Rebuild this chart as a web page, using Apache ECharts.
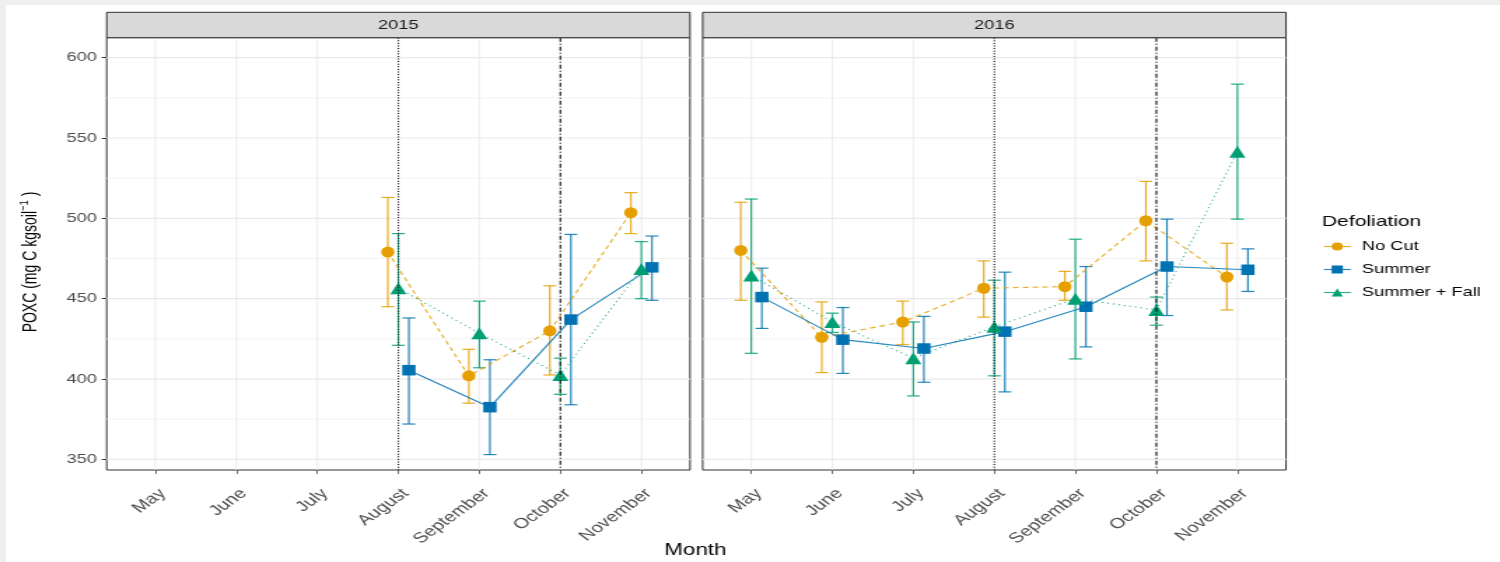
<!DOCTYPE html>
<html>
<head>
<meta charset="utf-8">
<script src="https://cdn.jsdelivr.net/npm/echarts/dist/echarts.min.js"></script>
<style>
html,body{margin:0;padding:0;background:#efefef;overflow:hidden;width:1500px;height:562px;}
#bg{position:absolute;left:6px;top:5px;width:1494px;height:557px;background:#fff;}
#chart{position:absolute;left:0;top:0;height:562px;transform-origin:0 0;}
</style>
</head>
<body>
<div id="bg"></div>
<div id="chart"></div>
<script>
// ---------- data ----------
const months = ['May', 'June', 'July', 'August', 'September', 'October', 'November'];
const panels = ['2015', '2016'];
const seriesNames = ['No Cut', 'Summer', 'Summer + Fall'];

// 2015
const noCut2015    = [null, null, null, 479, 402, 430, 503.5];
const noCut2015Lo  = [null, null, null, 445, 385, 402.5, 490.5];
const noCut2015Hi  = [null, null, null, 513, 418.5, 458, 516];
const summer2015   = [null, null, null, 405.5, 382.5, 437, 469.5];
const summer2015Lo = [null, null, null, 372, 353, 384, 449];
const summer2015Hi = [null, null, null, 438, 412, 490, 489];
const sf2015       = [null, null, null, 456.5, 428.5, 402.5, 468.5];
const sf2015Lo     = [null, null, null, 421, 407, 390.5, 450];
const sf2015Hi     = [null, null, null, 490.5, 448.5, 413, 485.5];

// 2016
const noCut2016    = [480, 426, 435.5, 456.5, 457.5, 498.5, 463.5];
const noCut2016Lo  = [449, 404, 421.5, 438.5, 449, 473.5, 443];
const noCut2016Hi  = [510, 448, 448.5, 473.5, 467, 523, 484.5];
const summer2016   = [451, 424.5, 419, 429.5, 445, 470, 468];
const summer2016Lo = [431.5, 403.5, 398, 392, 420, 439.5, 454.5];
const summer2016Hi = [469, 444.5, 439, 466.5, 470, 499.5, 481];
const sf2016       = [464.5, 435.5, 413, 432.5, 450, 443, 541.5];
const sf2016Lo     = [416, 429, 389.5, 402, 412.5, 433.5, 499.5];
const sf2016Hi     = [512, 441, 435.5, 461.5, 487, 451, 583.5];

const yTicks = [350, 400, 450, 500, 550, 600];
const yMinor = [375, 425, 475, 525, 575];
const refMonths = [3, 5]; // August (dotted), October (dot-dash)

// ---------- layout / style ----------
const S = 1.4;                 // horizontal stretch of the reference image
const W = 1500 / S;
const FF = '"Liberation Sans", Arial, Helvetica, sans-serif';
const el = document.getElementById('chart');
el.style.width = W + 'px';
el.style.transform = 'scaleX(' + S + ')';

const PW = 583.3 / S;
const gridsPx = [{left: 106.7 / S}, {left: 702.7 / S}];
const gTop = 37.7, gH = 432.3;
const yMin = 343.4, yMax = 612.4, xMin = -0.6, xMax = 6.6;

const groupStyle = [
  {color: '#E69F00', symbol: 'circle',   size: [9.5, 11],   dash: [4, 3], off: -0.13},
  {color: '#0072B2', symbol: 'rect',     size: [9.5, 10.5], dash: 'solid', off: 0.13},
  {color: '#009E73', symbol: 'triangle', size: [11.5, 12],  dash: [1, 3], off: 0}
];
const panelData = [
  [[noCut2015, noCut2015Lo, noCut2015Hi], [summer2015, summer2015Lo, summer2015Hi], [sf2015, sf2015Lo, sf2015Hi]],
  [[noCut2016, noCut2016Lo, noCut2016Hi], [summer2016, summer2016Lo, summer2016Hi], [sf2016, sf2016Lo, sf2016Hi]]
];

const grid = gridsPx.map(g => ({left: g.left, top: gTop, width: PW, height: gH,
  show: true, backgroundColor: '#fff', borderColor: '#333', borderWidth: 1}));

const xAxis = gridsPx.map((g, i) => ({
  type: 'value', gridIndex: i, min: xMin, max: xMax,
  axisLine: {show: false, onZero: false},
  splitLine: {show: false},
  axisTick: {show: true, customValues: months.map((m, k) => k), length: 4, lineStyle: {color: '#333', width: 1 / S}},
  axisLabel: {show: true, customValues: months.map((m, k) => k), rotate: 45, margin: 16,
    align: 'right', verticalAlign: 'top',
    formatter: v => months[Math.round(v)] || '', fontSize: 14.5, color: '#4d4d4d', fontFamily: FF}
}));
const yAxis = gridsPx.map((g, i) => ({
  type: 'value', gridIndex: i, min: yMin, max: yMax,
  axisLine: {show: false, onZero: false},
  splitLine: {show: false},
  axisTick: {show: i === 0, customValues: yTicks, length: 3.5, lineStyle: {color: '#333'}},
  axisLabel: {show: i === 0, customValues: yTicks, margin: 7, fontSize: 13, color: '#4d4d4d', fontFamily: FF}
}));

const series = [];
// grid lines (drawn through the axes' scales)
function hLine(color, width) {
  return function (params, api) {
    const cs = params.coordSys;
    const y = api.coord([xMin, api.value(1)])[1];
    return {type: 'line', shape: {x1: cs.x, y1: y, x2: cs.x + cs.width, y2: y},
      style: {stroke: color, lineWidth: width}};
  };
}
function vLine(color, width, dashFn) {
  return function (params, api) {
    const cs = params.coordSys;
    const x = api.coord([api.value(0), 400])[0];
    const st = {stroke: color, lineWidth: width};
    if (dashFn) st.lineDash = dashFn(params.dataIndex);
    return {type: 'line', shape: {x1: x, y1: cs.y, x2: x, y2: cs.y + cs.height}, style: st};
  };
}
gridsPx.forEach((g, p) => {
  series.push({type: 'custom', xAxisIndex: p, yAxisIndex: p, silent: true, z: 1,
    data: yTicks.map(v => [xMin, v]), renderItem: hLine('#e9e9e9', 1.2)});
  series.push({type: 'custom', xAxisIndex: p, yAxisIndex: p, silent: true, z: 1,
    data: yMinor.map(v => [xMin, v]), renderItem: hLine('#f0f0f0', 0.8)});
  series.push({type: 'custom', xAxisIndex: p, yAxisIndex: p, silent: true, z: 1,
    data: months.map((m, k) => [k, 400]), renderItem: vLine('#ebebeb', 0.9)});
});

function errRender(color) {
  return function (params, api) {
    const x = api.value(0), lo = api.value(1), hi = api.value(2);
    const a = api.coord([x, lo]), b = api.coord([x, hi]);
    const hw = 4.6;
    const st = {stroke: color, lineWidth: 1.2, opacity: 0.85};
    return {type: 'group', children: [
      {type: 'line', shape: {x1: a[0], y1: a[1], x2: b[0], y2: b[1]}, style: st},
      {type: 'line', shape: {x1: a[0] - hw, y1: a[1], x2: a[0] + hw, y2: a[1]}, style: st},
      {type: 'line', shape: {x1: b[0] - hw, y1: b[1], x2: b[0] + hw, y2: b[1]}, style: st}
    ]};
  };
}

// data series: lines first for legend, then error bars
panelData.forEach((pd, p) => {
  pd.forEach((arrs, gi) => {
    const gs = groupStyle[gi];
    const [vals] = arrs;
    const pts = [];
    vals.forEach((v, k) => { if (v != null) pts.push([k + gs.off, v]); });
    series.push({
      name: seriesNames[gi], type: 'line', xAxisIndex: p, yAxisIndex: p, z: 4,
      data: pts, symbol: gs.symbol, symbolSize: gs.size, showSymbol: true,
      itemStyle: {color: gs.color, opacity: 1},
      lineStyle: {color: gs.color, width: 1.1, type: gs.dash, opacity: 0.85},
      emphasis: {disabled: true}, animation: false
    });
  });
});
panelData.forEach((pd, p) => {
  pd.forEach((arrs, gi) => {
    const gs = groupStyle[gi];
    const [vals, lo, hi] = arrs;
    const d = [];
    vals.forEach((v, k) => { if (v != null) d.push([k + gs.off, lo[k], hi[k]]); });
    series.push({
      type: 'custom', xAxisIndex: p, yAxisIndex: p, z: 3, silent: true,
      data: d, renderItem: errRender(gs.color), animation: false
    });
  });
});
// reference vertical lines
gridsPx.forEach((g, p) => {
  series.push({
    type: 'custom', xAxisIndex: p, yAxisIndex: p, z: 6, silent: true,
    data: refMonths.map(k => [k, 400]),
    renderItem: vLine('#111', 1.1, i => (i === 0 ? [1, 1.6] : [4, 2, 1, 2]))
  });
});

const graphic = [];
gridsPx.forEach((g, p) => {
  graphic.push({type: 'rect', x: g.left, y: 12.3,
    shape: {x: 0, y: 0, width: PW, height: gTop - 12.3},
    style: {fill: '#d9d9d9', stroke: '#333', lineWidth: 1}, z: 10});
  graphic.push({type: 'text', x: g.left + PW / 2, y: (12.3 + gTop) / 2 + 0.5,
    style: {text: panels[p], fontSize: 13, fill: '#1a1a1a', fontFamily: FF, align: 'center', verticalAlign: 'middle'}, z: 11});
});
graphic.push({type: 'text', x: 695.3 / S, y: 550.5,
  style: {text: 'Month', fontSize: 16, fill: '#000', fontFamily: FF, align: 'center', verticalAlign: 'middle'}});
graphic.push({type: 'text', x: 1322 / S, y: 222,
  style: {text: 'Defoliation', fontSize: 15, fill: '#000', fontFamily: FF, align: 'left', verticalAlign: 'middle'}});
graphic.push({type: 'text', x: 31 / S, y: 262, rotation: Math.PI / 2,
  style: {text: '{a|POXC (mg C kgsoil}{s|−1}{a| )}', align: 'center', verticalAlign: 'middle',
    rich: {a: {fontSize: 14, fontFamily: FF, fill: '#000', lineHeight: 20},
           s: {fontSize: 9.5, fontFamily: FF, fill: '#000', verticalAlign: 'top', lineHeight: 20}}}});

const chart = echarts.init(el, null, {renderer: 'canvas', width: W, height: 562});
chart.setOption({
  animation: false,
  backgroundColor: 'transparent',
  grid, xAxis, yAxis, series, graphic,
  legend: {
    data: seriesNames, orient: 'vertical', left: 1323 / S, top: 240, padding: 0,
    itemWidth: 27 / S, itemHeight: 10, itemGap: 10, selectedMode: false,
    lineStyle: {type: 'solid', width: 1.1},
    textStyle: {fontSize: 13, color: '#000', fontFamily: FF, padding: [0, 0, 0, 3]}
  }
});
</script>
</body>
</html>
